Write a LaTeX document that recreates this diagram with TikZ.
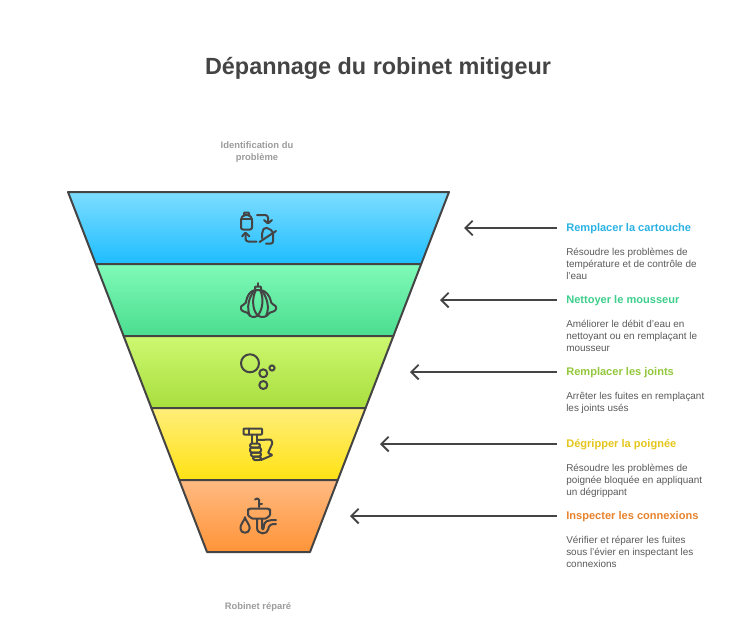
\documentclass[tikz,border=0pt]{standalone}
\usepackage{fontspec}
\setmainfont{Liberation Sans}
\usetikzlibrary{arrows.meta}
\definecolor{ink}{HTML}{444444}
\definecolor{txt}{HTML}{5A5A5A}
\definecolor{mut}{HTML}{9C9C9C}
\definecolor{hA}{HTML}{2BB3E3}
\definecolor{hB}{HTML}{3FCF8C}
\definecolor{hC}{HTML}{93C73C}
\definecolor{hD}{HTML}{E4C61C}
\definecolor{hE}{HTML}{E8822C}
\tikzset{
 x=0.75pt,y=-0.75pt,
 band/.style={draw=ink,line width=1.5pt,line join=round},
 icon/.style={draw=ink,line width=1.5pt,line cap=round,line join=round,rounded corners=0.6pt},
 head/.style={font=\fontsize{8.3pt}{10pt}\selectfont\bfseries,anchor=west,inner xsep=6.75pt,inner ysep=0pt,text height=6.5pt,text depth=1.8pt},
 desc/.style={font=\fontsize{7.45pt}{9pt}\selectfont,text=txt,align=left,anchor=north west,inner sep=0pt},
 note/.style={font=\fontsize{7.05pt}{9pt}\selectfont\bfseries,text=mut,align=center,inner sep=0pt},
 pointer/.style={draw=ink,line width=1.4pt,-{Straight Barb[length=5.5pt,width=11pt,line width=1.4pt]}}
}
\begin{document}
\begin{tikzpicture}
\useasboundingbox[fill=white] (0,0) rectangle (756,643);
\node[font=\fontsize{17.55pt}{22pt}\selectfont\bfseries,text=ink,inner sep=0pt] (title) at (378,68) {Dépannage du robinet mitigeur};
\node[note] (start) at (257,152) {Identification du\\problème};
\node[note] (end) at (258,607.5) {Robinet réparé};
% bands
\path[band,top color={rgb,255:red,125;green,221;blue,255},bottom color={rgb,255:red,30;green,189;blue,255}] (68,192)--(449,192)--(421.2,264)--(95.8,264)--cycle;
\path[band,top color={rgb,255:red,128;green,250;blue,184},bottom color={rgb,255:red,74;green,221;blue,143}] (95.8,264)--(421.2,264)--(393.4,336)--(123.6,336)--cycle;
\path[band,top color={rgb,255:red,205;green,248;blue,112},bottom color={rgb,255:red,168;green,222;blue,62}] (123.6,336)--(393.4,336)--(365.6,408)--(151.4,408)--cycle;
\path[band,top color={rgb,255:red,255;green,238;blue,122},bottom color={rgb,255:red,255;green,226;blue,20}] (151.4,408)--(365.6,408)--(337.8,480)--(179.2,480)--cycle;
\path[band,top color={rgb,255:red,255;green,186;blue,130},bottom color={rgb,255:red,255;green,148;blue,56}] (179.2,480)--(337.8,480)--(310,552)--(207,552)--cycle;
% arrow targets
\coordinate (tA) at (464,228);
\coordinate (tB) at (440,300);
\coordinate (tC) at (410,372);
\coordinate (tD) at (380,444);
\coordinate (tE) at (350,516);
% headings
\node[head,text=hA] (hdA) at (557,228) {Remplacer la cartouche};
\node[head,text=hB] (hdB) at (557,300) {Nettoyer le mousseur};
\node[head,text=hC] (hdC) at (557,372) {Remplacer les joints};
\node[head,text=hD] (hdD) at (557,444) {Dégripper la poignée};
\node[head,text=hE] (hdE) at (557,516) {Inspecter les connexions};
\draw[pointer] (hdA.west) -- (tA);
\draw[pointer] (hdB.west) -- (tB);
\draw[pointer] (hdC.west) -- (tC);
\draw[pointer] (hdD.west) -- (tD);
\draw[pointer] (hdE.west) -- (tE);
% descriptions
\node[desc] (dA) at (566,247.5) {Résoudre les problèmes de\\température et de contrôle de\\l'eau};
\node[desc] (dB) at (566,319.5) {Améliorer le débit d'eau en\\nettoyant ou en remplaçant le\\mousseur};
\node[desc] (dC) at (566,391.5) {Arrêter les fuites en remplaçant\\les joints usés};
\node[desc] (dD) at (566,463.5) {Résoudre les problèmes de\\poignée bloquée en appliquant\\un dégrippant};
\node[desc] (dE) at (566,535.5) {Vérifier et réparer les fuites\\sous l'évier en inspectant les\\connexions};
% icon 1: recycle
\draw[icon,rounded corners=1.5pt] (241,218)--(241,229.5)--(252,229.5)--(252,218)--(249.5,215)--(243.5,215)--cycle;
\draw[icon] (244,215)--(244,212.5)--(249,212.5)--(249,215);
\draw[icon] (241,219)--(252,219);
\draw[icon,rounded corners=2pt] (257,215)--(268,215)--(268,223);
\draw[icon] (264,220)--(268,223.5)--(272,220);
\draw[icon,rounded corners=2pt] (256.5,241.5)--(245.5,241.5)--(245.5,233);
\draw[icon] (242,236.5)--(245.5,232.5)--(249.5,236.5);
\draw[icon,rounded corners=1.5pt] (262,238)--(262,232)--(265,227)--(273,231)--(273,243.5)--(266,243.5);
\draw[icon] (259.5,242)--(276,231);
% icon 2: mousseur
\draw[icon] (257.7,283)--(257.7,286);
\draw[icon] (255,290)--(255,286.5)--(261,286.5)--(261,290)--cycle;
\draw[icon] (255,290) .. controls (250,291) and (247,296) .. (246,302) .. controls (245,305) and (241,305) .. (241,308) .. controls (241,311) and (245,312) .. (248,313) .. controls (250,317) and (254,318) .. (257.7,315.5) .. controls (262,318) and (267,317) .. (269,313) .. controls (272,312) and (276,311) .. (276,308) .. controls (276,305) and (272,305) .. (271,302) .. controls (270,296) and (266,291) .. (261,290);
\draw[icon] (255,290) .. controls (249,296) and (246,308) .. (250,316);
\draw[icon] (261,290) .. controls (267,296) and (270,308) .. (266,316);
\draw[icon] (256,290) .. controls (252,297) and (252,309) .. (257.7,315.5) .. controls (263,309) and (264,297) .. (260,290);
% icon 3: bubbles
\draw[icon] (250,363.3) circle[radius=9];
\draw[icon] (263.3,373.3) circle[radius=4];
\draw[icon] (272,368) circle[radius=2.6];
\draw[icon] (263.3,385) circle[radius=4];
% icon 4: hammer and hand
\draw[icon] (243.5,428.5)--(262,428.5)--(262,434.5)--(243.5,434.5)--cycle;
\draw[icon] (249,428.5)--(249,434.5);
\draw[icon] (252,434.5)--(252,443);
\draw[icon] (257,434.5)--(257,443);
\draw[icon,rounded corners=1.5pt] (250,443.5)--(260,443.5)--(260,447.5)--(250,447.5)--cycle;
\draw[icon,rounded corners=1.5pt] (250,447.5)--(261,447.5)--(261,452.5)--(250,452.5)--cycle;
\draw[icon,rounded corners=1.5pt] (251,452.5)--(261,452.5)--(261,456.5)--(251,456.5)--cycle;
\draw[icon,rounded corners=1.5pt] (253,456.5)--(261,456.5)--(261,460)--(253,460)--cycle;
\draw[icon] (258,440)--(271,439.5)--(272.5,443)--(268,453)--(272.5,455)--(261,460);
% icon 5: sink
\draw[icon] (259,507)--(259,500.5) .. controls (259,498) and (256,498) .. (255,499.5);
\draw[icon] (259,503.5)--(262,503.5);
\draw[icon,rounded corners=2pt] (248,508.5)--(270,508.5)--(270,512) .. controls (270,516) and (266,518.5) .. (263,518.5)--(255,518.5) .. controls (252,518.5) and (248,516) .. (248,512)--cycle;
\draw[icon] (245,518) .. controls (243,522) and (240.5,525) .. (240.5,528) .. controls (240.5,534) and (249.5,534) .. (249.5,528) .. controls (249.5,525) and (247,522) .. (245,518)--cycle;
\draw[icon] (257,519)--(257,527) .. controls (257,535) and (268,535) .. (268.5,528) .. controls (269,525) and (271,524) .. (276,524);
\draw[icon] (262,519)--(262,527) .. controls (262,530) and (263.5,530) .. (264,526) .. controls (264.5,521) and (268,520) .. (276,520);
\end{tikzpicture}
\end{document}
